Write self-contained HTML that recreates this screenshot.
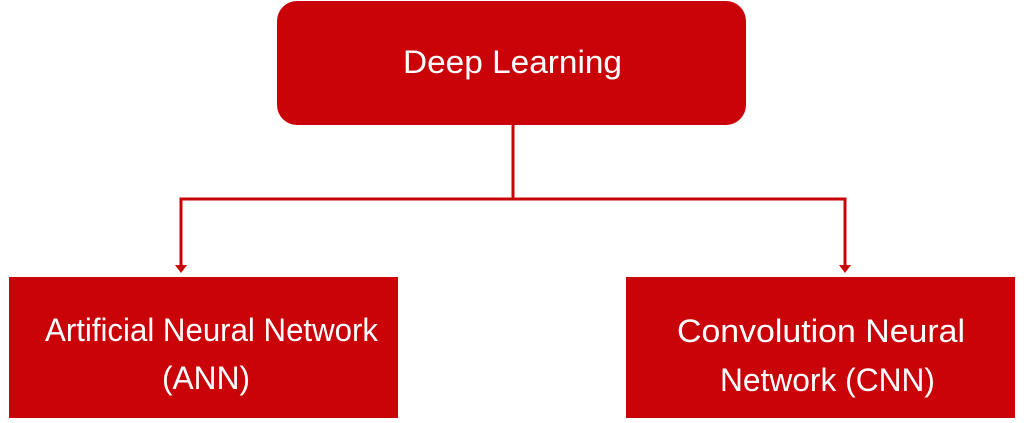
<!DOCTYPE html>
<html><head><style>html,body{margin:0;padding:0;background:#fff;}svg{display:block}</style></head>
<body>
<svg width="1024" height="423" viewBox="0 0 1024 423" xmlns="http://www.w3.org/2000/svg">
<g fill="#c90308">
<rect x="277" y="1" width="469" height="124" rx="20" ry="20"/>
<rect x="9" y="277" width="389" height="141"/>
<rect x="626" y="277" width="389" height="141"/>
</g>
<g stroke="#c90308" stroke-width="3" fill="none">
<line x1="513" y1="125" x2="513" y2="199"/>
<polyline points="181,269 181,199 845,199 845,269"/>
</g>
<g fill="#c90308">
<polygon points="175,265 187,265 181,273"/>
<polygon points="839,265 851,265 845,273"/>
</g>
<g fill="#fff" font-family="Liberation Sans, sans-serif" font-size="32">
<text x="403" y="73" textLength="219" lengthAdjust="spacingAndGlyphs">Deep Learning</text>
<text x="45" y="341" textLength="333" lengthAdjust="spacingAndGlyphs">Artificial Neural Network</text>
<text x="162" y="389" textLength="88" lengthAdjust="spacingAndGlyphs">(ANN)</text>
<text x="677" y="342" textLength="288" lengthAdjust="spacingAndGlyphs">Convolution Neural</text>
<text x="720" y="391" textLength="215" lengthAdjust="spacingAndGlyphs">Network (CNN)</text>
</g>
</svg>
</body></html>
